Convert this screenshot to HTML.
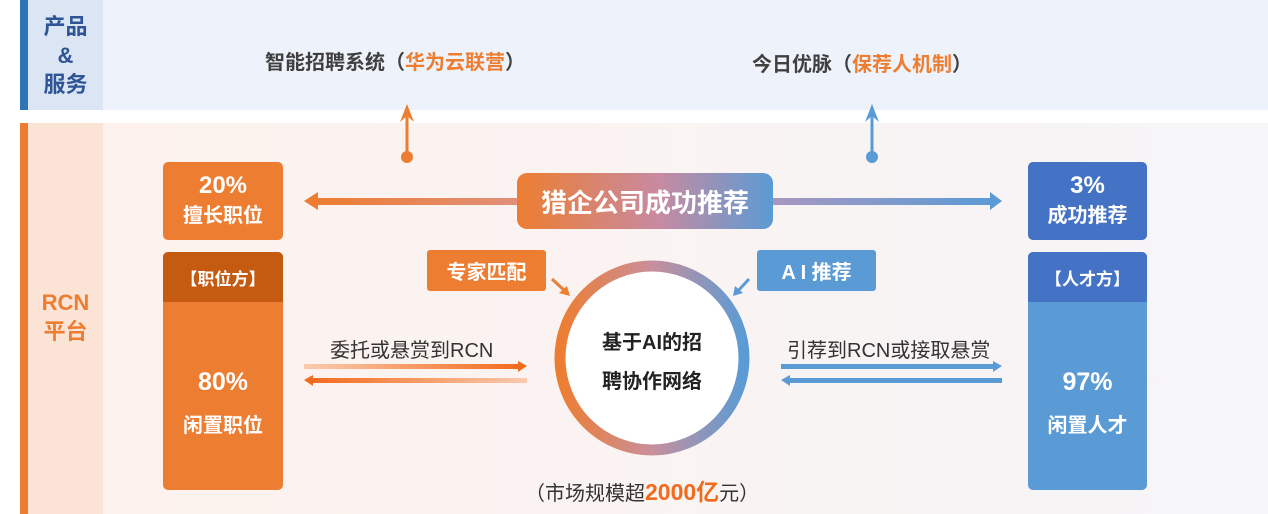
<!DOCTYPE html>
<html><head><meta charset="utf-8"><style>
*{margin:0;padding:0;box-sizing:border-box}
body{width:1268px;height:514px;background:#fff;position:relative;overflow:hidden;font-family:"Liberation Sans","Noto Sans CJK SC",sans-serif}
.a{position:absolute}
.c{display:flex;align-items:center;justify-content:center;text-align:center}
.w{color:#fff;font-weight:bold}
</style></head><body>
<div class="a" style="left:20px;top:0;width:8px;height:110px;background:#2e75b6"></div>
<div class="a" style="left:28px;top:0;width:75px;height:110px;background:#dbe5f4"></div>
<div class="a" style="left:103px;top:0;width:1165px;height:110px;background:#eef3fb"></div>
<div class="a c" style="left:28px;top:8px;width:75px;height:94px;color:#2f5597;font-weight:bold;font-size:22px;line-height:29px">产品<br>&amp;<br>服务</div>
<div class="a" style="left:265px;top:46px;font-size:20px;font-weight:bold;color:#404040">智能招聘系统（<span style="color:#ed7d31">华为云联营</span>）</div>
<div class="a" style="left:752px;top:48px;font-size:20px;font-weight:bold;color:#404040">今日优脉（<span style="color:#ed7d31">保荐人机制</span>）</div>

<div class="a" style="left:20px;top:123px;width:8px;height:391px;background:#ed7d31"></div>
<div class="a" style="left:28px;top:123px;width:75px;height:391px;background:#fbe4d6"></div>
<div class="a" style="left:103px;top:123px;width:1165px;height:391px;background:linear-gradient(90deg,#fdf2ed,#f6f5f8)"></div>
<div class="a c" style="left:28px;top:288px;width:75px;color:#ed7d31;font-weight:bold;font-size:22px;line-height:29px">RCN<br>平台</div>

<div class="a c w" style="left:163px;top:162px;width:120px;height:78px;background:#ed7d31;border-radius:5px;font-size:24px;line-height:30px;flex-direction:column">20%<span style="font-size:20px">擅长职位</span></div>
<div class="a" style="left:163px;top:252px;width:120px;height:238px;background:#ed7d31;border-radius:5px;overflow:hidden">
<div class="c w" style="height:50px;background:#c55a11;font-size:17px">【职位方】</div>
<div class="a c w" style="top:108px;width:120px;font-size:25px;flex-direction:column;line-height:44px">80%<span style="font-size:20px">闲置职位</span></div></div>

<div class="a c w" style="left:1028px;top:162px;width:119px;height:78px;background:#4472c4;border-radius:5px;font-size:24px;line-height:30px;flex-direction:column">3%<span style="font-size:20px">成功推荐</span></div>
<div class="a" style="left:1028px;top:252px;width:119px;height:238px;background:#5b9bd5;border-radius:5px;overflow:hidden">
<div class="c w" style="height:50px;background:#4472c4;font-size:17px">【人才方】</div>
<div class="a c w" style="top:108px;width:119px;font-size:25px;flex-direction:column;line-height:44px">97%<span style="font-size:20px">闲置人才</span></div></div>

<svg class="a" style="left:0;top:0" width="1268" height="514">
<defs>
<linearGradient id="g1" x1="0" x2="1"><stop offset="0" stop-color="#ed7d31"/><stop offset="0.5" stop-color="#c98f9c"/><stop offset="1" stop-color="#5b9bd5"/></linearGradient>
<linearGradient id="gl" x1="0" x2="1"><stop offset="0" stop-color="#ed7d31"/><stop offset="1" stop-color="#e0907c"/></linearGradient>
<linearGradient id="gr" x1="0" x2="1"><stop offset="0" stop-color="#a898c0"/><stop offset="1" stop-color="#5b9bd5"/></linearGradient>
<linearGradient id="o1" x1="0" x2="1"><stop offset="0" stop-color="#fbcbb0"/><stop offset="1" stop-color="#f26a1b"/></linearGradient>
<linearGradient id="o2" x1="0" x2="1"><stop offset="0" stop-color="#f26a1b"/><stop offset="1" stop-color="#fbcbb0"/></linearGradient>
</defs>
<line x1="407" y1="157" x2="407" y2="110" stroke="#ed7d31" stroke-width="3"/>
<path d="M400 122 L407 104 L414 122 L407 116Z" fill="#ed7d31"/>
<circle cx="407" cy="157" r="6" fill="#ed7d31"/>
<line x1="872" y1="157" x2="872" y2="110" stroke="#5b9bd5" stroke-width="3"/>
<path d="M865 122 L872 104 L879 122 L872 116Z" fill="#5b9bd5"/>
<circle cx="872" cy="157" r="6" fill="#5b9bd5"/>
<rect x="316" y="198" width="204" height="7" fill="url(#gl)"/>
<path d="M304 201 L318 192 L318 210Z" fill="#ed7d31"/>
<rect x="770" y="198" width="222" height="7" fill="url(#gr)"/>
<path d="M1002 201 L990 192 L990 210Z" fill="#5b9bd5"/>
<rect x="304" y="364" width="218" height="5" fill="url(#o1)"/><path d="M527 366 L518 361 L518 372Z" fill="#f26a1b"/>
<rect x="309" y="378" width="218" height="5" fill="url(#o2)"/><path d="M304 380 L313 375 L313 386Z" fill="#f26a1b"/>
<rect x="781" y="364" width="216" height="5" fill="#5b9bd5"/><path d="M1002 366 L993 361 L993 372Z" fill="#5b9bd5"/>
<rect x="786" y="378" width="216" height="5" fill="#5b9bd5"/><path d="M781 380 L790 375 L790 386Z" fill="#5b9bd5"/>
<circle cx="652" cy="358" r="92" fill="#fff" stroke="url(#g1)" stroke-width="11"/>
<line x1="552" y1="279" x2="566" y2="292" stroke="#ed7d31" stroke-width="3"/><path d="M570 296 L559 293 L567 286Z" fill="#ed7d31"/>
<line x1="749" y1="279" x2="737" y2="292" stroke="#5b9bd5" stroke-width="3"/><path d="M733 296 L735 286 L743 293Z" fill="#5b9bd5"/>
</svg>
<div class="a c w" style="left:517px;top:173px;width:256px;height:56px;border-radius:10px;background:linear-gradient(90deg,#ed7d31,#c88aa0 55%,#5b9bd5);font-size:26px">猎企公司成功推荐</div>
<div class="a c w" style="left:427px;top:250px;width:119px;height:41px;background:#ed7d31;border-radius:3px;font-size:20px">专家匹配</div>
<div class="a c w" style="left:757px;top:250px;width:119px;height:41px;background:#5b9bd5;border-radius:3px;font-size:20px">A I 推荐</div>
<div class="a c" style="left:567px;top:324px;width:170px;font-size:20px;font-weight:bold;color:#222;line-height:39px">基于AI的招<br>聘协作网络</div>
<div class="a" style="left:330px;top:334px;font-size:20px;color:#333">委托或悬赏到RCN</div>
<div class="a" style="left:787px;top:334px;font-size:20px;color:#333">引荐到RCN或接取悬赏</div>
<div class="a" style="left:525px;top:473px;font-size:20px;color:#333">（市场规模超<b style="color:#f26a1b;font-size:23px">2000亿</b>元）</div>
</body></html>
